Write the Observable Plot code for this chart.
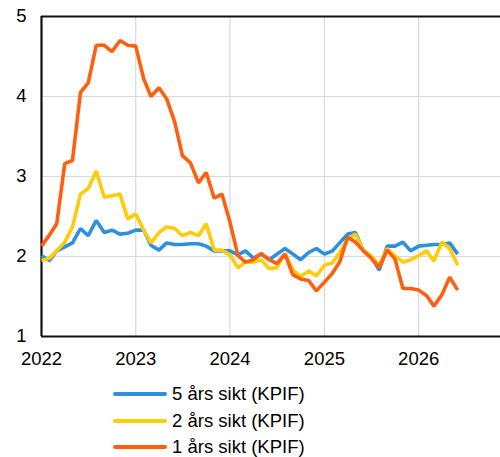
<!DOCTYPE html>
<html>
<head>
<meta charset="utf-8">
<script src="https://cdn.jsdelivr.net/npm/d3@7"></script>
<script src="https://cdn.jsdelivr.net/npm/@observablehq/plot@0.6"></script>
<style>
  html, body { margin: 0; padding: 0; background: #fff; }
  #chart { width: 500px; font-family: "Liberation Sans", Arial, sans-serif; }
  #legend { position: relative; width: 500px; height: 85px; }
  .row { position: absolute; left: 0; width: 500px; height: 22px; }
  .sw { position: absolute; left: 113px; top: 9px; width: 54px; height: 4px; border-radius: 2px; }
  .lab { position: absolute; left: 172px; top: 0; font-size: 18.5px; color: #000; white-space: nowrap; line-height: 22px; }
</style>
</head>
<body>
<div id="chart"></div>
<script>
// Monthly observations starting January 2022
const startYear = 2022;
const seriesNames = ["5 års sikt (KPIF)", "2 års sikt (KPIF)", "1 års sikt (KPIF)"];
const seriesColors = ["#2b8fe2", "#ffcc0a", "#ff5f0f"];
const fiveYear = [2.01,1.95,2.07,2.12,2.17,2.35,2.26,2.45,2.30,2.33,2.28,2.29,2.33,2.33,2.14,2.08,2.17,2.15,2.15,2.16,2.16,2.13,2.07,2.07,2.07,2.02,2.07,1.98,2.03,1.96,2.03,2.10,2.03,1.96,2.05,2.10,2.03,2.07,2.17,2.28,2.30,2.07,2.00,1.83,2.13,2.13,2.18,2.07,2.13,2.14,2.15,2.15,2.17,2.03];
const twoYear = [1.95,1.98,2.07,2.18,2.37,2.78,2.85,3.07,2.74,2.76,2.78,2.47,2.53,2.33,2.17,2.30,2.37,2.35,2.26,2.30,2.26,2.41,2.08,2.08,2.02,1.86,1.93,1.93,1.96,1.85,1.86,2.04,1.83,1.75,1.82,1.76,1.89,1.92,2.05,2.22,2.28,2.07,2.01,1.89,2.10,2.01,1.93,1.96,2.01,2.07,1.94,2.18,2.10,1.89];
const oneYear = [2.13,2.27,2.41,3.16,3.20,4.05,4.17,4.64,4.64,4.56,4.70,4.64,4.63,4.22,4.00,4.11,3.97,3.68,3.26,3.17,2.92,3.05,2.73,2.78,2.43,2.01,1.93,1.96,2.04,1.96,1.91,2.03,1.77,1.72,1.70,1.57,1.68,1.79,1.93,2.24,2.18,2.07,1.98,1.86,2.08,1.97,1.60,1.60,1.58,1.51,1.38,1.52,1.74,1.58];
const yTicks = [1, 2, 3, 4, 5];
const xTickYears = [2022, 2023, 2024, 2025, 2026];
const xDomainEnd = new Date(Date.UTC(2026, 10, 14));

const allSeries = [fiveYear, twoYear, oneYear];
const rows = [];
allSeries.forEach((vals, s) => {
  vals.forEach((v, i) => rows.push({series: seriesNames[s], date: new Date(Date.UTC(startYear, i, 1)), value: v}));
});
const xTicks = xTickYears.map(y => new Date(Date.UTC(y, 0, 1)));
const xStart = xTicks[0];

const plot = Plot.plot({
  width: 500,
  height: 372,
  marginTop: 16,
  marginBottom: 36,
  marginLeft: 41,
  marginRight: 0,
  style: {fontFamily: "'Liberation Sans', Arial, sans-serif", fontSize: "18.5px", color: "#000", background: "#fff"},
  x: {type: "utc", domain: [xStart, xDomainEnd]},
  y: {domain: [yTicks[0], yTicks[yTicks.length - 1]]},
  color: {domain: seriesNames, range: seriesColors},
  marks: [
    Plot.gridX(xTicks.slice(1), {stroke: "#d9d9d9", strokeOpacity: 1, strokeWidth: 1.2}),
    Plot.gridY(yTicks.slice(1, -1), {stroke: "#d9d9d9", strokeOpacity: 1, strokeWidth: 1.2}),
    Plot.ruleY([yTicks[0], yTicks[yTicks.length - 1]], {stroke: "#111", strokeWidth: 2}),
    Plot.ruleX([xStart], {stroke: "#111", strokeWidth: 2.2}),
    Plot.axisY({ticks: yTicks, tickFormat: d3.format("d"), tickSize: 0, tickPadding: 15, fontSize: 18.5, label: null}),
    Plot.axisX({ticks: xTicks, tickFormat: d3.utcFormat("%Y"), tickSize: 0, tickPadding: 15, fontSize: 18.5, label: null}),
    Plot.lineY(rows, {x: "date", y: "value", z: "series", stroke: "series", strokeWidth: 3.6, strokeLinejoin: "miter", strokeLinecap: "butt"})
  ]
});
document.getElementById("chart").appendChild(plot);

const legend = document.createElement("div");
legend.id = "legend";
seriesNames.forEach((name, i) => {
  const row = document.createElement("div");
  row.className = "row";
  row.style.top = (11 + i * 26.5) + "px";
  const sw = document.createElement("div");
  sw.className = "sw";
  sw.style.background = seriesColors[i];
  const lab = document.createElement("div");
  lab.className = "lab";
  lab.textContent = name;
  row.appendChild(sw);
  row.appendChild(lab);
  legend.appendChild(row);
});
document.getElementById("chart").appendChild(legend);
</script>
</body>
</html>
